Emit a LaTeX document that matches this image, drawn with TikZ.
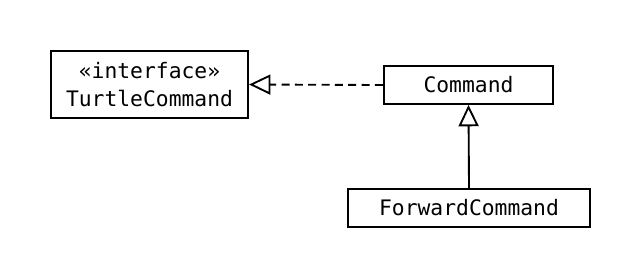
\documentclass[tikz,border=0pt]{standalone}
\usepackage{fontspec}
\setmonofont{DejaVu Sans Mono}
\usetikzlibrary{arrows.meta}

\begin{document}
\begin{tikzpicture}[
    x=0.75pt, y=-0.75pt,
    every node/.style={rectangle, draw, line width=1.4pt, inner sep=0pt, font=\ttfamily\fontsize{16}{21}\selectfont, align=center},
    realizes/.style={line width=1.4pt, dash pattern=on 6pt off 4pt, -{Triangle[open, length=16pt, width=15pt]}},
    extends/.style={line width=1.4pt, -{Triangle[open, length=16pt, width=15pt]}}
]
\useasboundingbox (0,0) rectangle (641,279);
\node[minimum width=148pt, minimum height=50pt] (turtle) at (149.5,84.5) {«interface»\\TurtleCommand};
\node[minimum width=127pt, minimum height=28.5pt] (command) at (468.5,85) {Command};
\node[minimum width=181pt, minimum height=28.5pt] (forward) at (469,208) {ForwardCommand};

\draw[realizes] (command.west) -- (turtle.east);
\draw[extends] (forward.north) -- (command.south);
\end{tikzpicture}
\end{document}
